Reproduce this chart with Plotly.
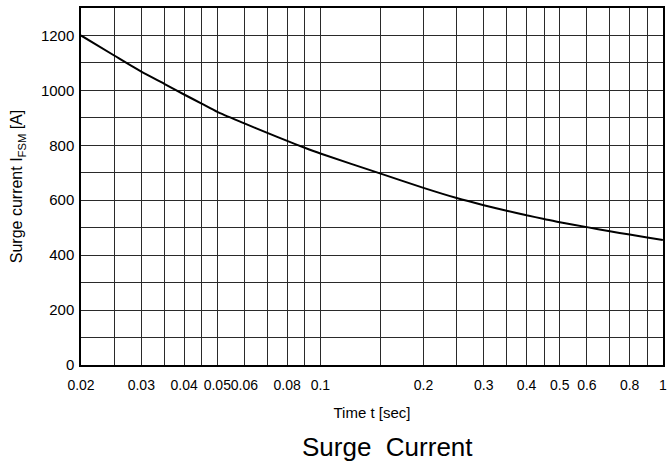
import plotly.graph_objects as go

# Curve (time in s, surge current in A)
time_s = [0.02, 0.025, 0.03, 0.035, 0.04, 0.045, 0.05, 0.06, 0.07, 0.08, 0.09,
          0.1, 0.15, 0.2, 0.25, 0.3, 0.35, 0.4, 0.45, 0.5, 0.6, 0.7, 0.8, 0.9, 1.0]
current_a = [1200, 1127, 1068, 1024, 985, 952, 922, 880, 845, 816, 791,
             770, 697, 645, 608, 582, 562, 545, 532, 520, 502, 487, 475, 464, 455]

# Vertical grid positions and their labels
x_grid = [0.02, 0.025, 0.03, 0.035, 0.04, 0.045, 0.05, 0.06, 0.07, 0.08, 0.09,
          0.1, 0.15, 0.2, 0.25, 0.3, 0.35, 0.4, 0.45, 0.5, 0.6, 0.7, 0.8, 0.9, 1.0]
x_labels = ["0.02", "", "0.03", "", "0.04", "", "0.05", "0.06", "", "0.08", "",
            "0.1", "", "0.2", "", "0.3", "", "0.4", "", "0.5", "0.6", "", "0.8", "", "1"]

# Horizontal grid positions and labels
y_grid = [0, 100, 200, 300, 400, 500, 600, 700, 800, 900, 1000, 1100, 1200, 1300]
y_labels = ["0", "", "200", "", "400", "", "600", "", "800", "", "1000", "", "1200", ""]

FONT = "Liberation Sans, Arial, sans-serif"

fig = go.Figure()
fig.add_trace(go.Scatter(x=time_s, y=current_a, mode="lines",
                         line=dict(color="black", width=2, shape="spline", smoothing=0.6),
                         showlegend=False, hoverinfo="skip"))

fig.update_layout(
    width=667, height=467,
    margin=dict(l=81, r=4, t=8, b=102),
    paper_bgcolor="white", plot_bgcolor="white",
    font=dict(family=FONT, color="black", size=15),
    xaxis=dict(type="log", range=[-1.69897, 0.0004], automargin=False,
               tickmode="array", tickvals=x_grid, ticktext=x_labels, tickangle=0,
               ticklabelstandoff=6, ticklabeloverflow="allow",
               showgrid=True, gridcolor="#2a2a2a", gridwidth=1,
               showline=True, linecolor="black", linewidth=1.5, mirror=True,
               ticks="", tickfont=dict(size=14), zeroline=False,
               title=dict(text="Time t [sec]", font=dict(size=15), standoff=16)),
    yaxis=dict(range=[0, 1300], automargin=False,
               tickmode="array", tickvals=y_grid, ticktext=y_labels,
               ticklabelstandoff=2,
               showgrid=True, gridcolor="#2a2a2a", gridwidth=1,
               showline=True, linecolor="black", linewidth=1.5, mirror=True,
               ticks="", tickfont=dict(size=15), zeroline=False,
               title=dict(text="Surge current I<sub>FSM</sub> [A]", font=dict(size=16), standoff=14)),
    annotations=[dict(text="Surge\u00a0 Current", xref="paper", yref="paper",
                      x=0.5, y=0, xanchor="center", yanchor="middle",
                      yshift=-82, xshift=15, showarrow=False,
                      font=dict(size=26, family=FONT, color="black"))],
)

fig.write_html("out.html", config={"displayModeBar": False},
               post_script="document.body.style.margin='0';document.body.style.overflow='hidden';")
